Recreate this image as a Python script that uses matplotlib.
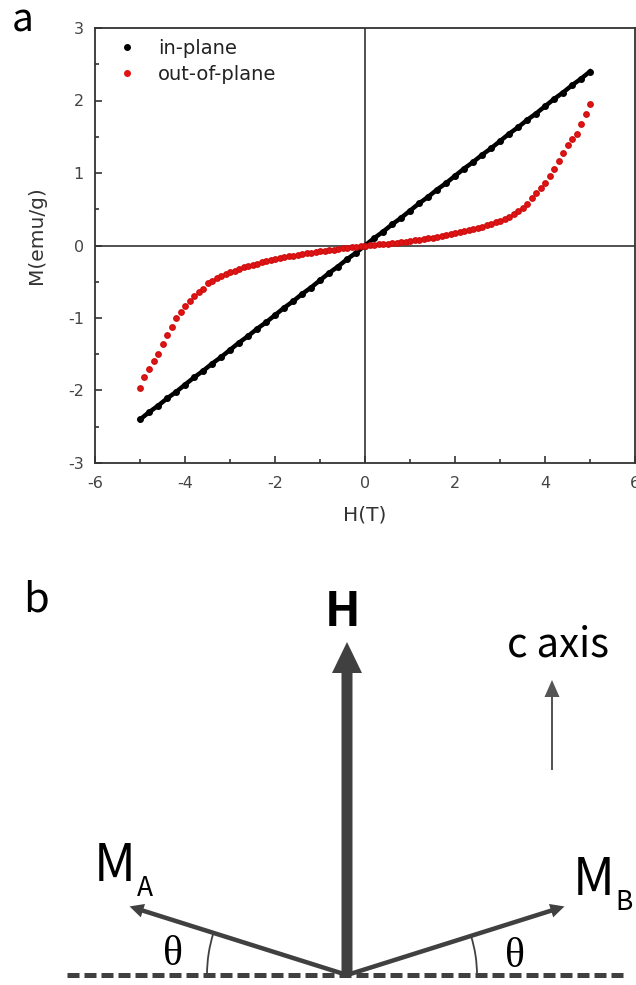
import numpy as np
import matplotlib.pyplot as plt
from matplotlib.lines import Line2D
from matplotlib.patches import Arc

plt.rcParams['axes.unicode_minus'] = False

# ---- panel a data: M(H) ----
h_in = [-5.0, -4.8, -4.6, -4.4, -4.2, -4.0, -3.8, -3.6, -3.4, -3.2, -3.0,
        -2.8, -2.6, -2.4, -2.2, -2.0, -1.8, -1.6, -1.4, -1.2, -1.0,
        -0.8, -0.6, -0.4, -0.2, 0.0, 0.2, 0.4, 0.6, 0.8, 1.0,
        1.2, 1.4, 1.6, 1.8, 2.0, 2.2, 2.4, 2.6, 2.8, 3.0,
        3.2, 3.4, 3.6, 3.8, 4.0, 4.2, 4.4, 4.6, 4.8, 5.0]
m_in = [-2.40, -2.30, -2.21, -2.11, -2.02, -1.92, -1.82, -1.73, -1.63, -1.54, -1.44,
        -1.34, -1.25, -1.15, -1.06, -0.96, -0.86, -0.77, -0.67, -0.58, -0.48,
        -0.38, -0.29, -0.19, -0.10, 0.00, 0.10, 0.19, 0.29, 0.38, 0.48,
        0.58, 0.67, 0.77, 0.86, 0.96, 1.06, 1.15, 1.25, 1.34, 1.44,
        1.54, 1.63, 1.73, 1.82, 1.92, 2.02, 2.11, 2.21, 2.30, 2.40]

h_out = [-5.0, -4.9, -4.8, -4.7, -4.6, -4.5, -4.4, -4.3, -4.2, -4.1,
         -4.0, -3.9, -3.8, -3.7, -3.6, -3.5, -3.4, -3.3, -3.2, -3.1,
         -3.0, -2.9, -2.8, -2.7, -2.6, -2.5, -2.4, -2.3, -2.2, -2.1,
         -2.0, -1.9, -1.8, -1.7, -1.6, -1.5, -1.4, -1.3, -1.2, -1.1,
         -1.0, -0.9, -0.8, -0.7, -0.6, -0.5, -0.4, -0.3, -0.2, -0.1,
         0.0, 0.1, 0.2, 0.3, 0.4, 0.5, 0.6, 0.7, 0.8, 0.9,
         1.0, 1.1, 1.2, 1.3, 1.4, 1.5, 1.6, 1.7, 1.8, 1.9,
         2.0, 2.1, 2.2, 2.3, 2.4, 2.5, 2.6, 2.7, 2.8, 2.9,
         3.0, 3.1, 3.2, 3.3, 3.4, 3.5, 3.6, 3.7, 3.8, 3.9,
         4.0, 4.1, 4.2, 4.3, 4.4, 4.5, 4.6, 4.7, 4.8, 4.9, 5.0]
m_out = [-1.96, -1.82, -1.71, -1.60, -1.49, -1.36, -1.23, -1.13, -1.00, -0.92,
         -0.84, -0.76, -0.70, -0.64, -0.60, -0.52, -0.49, -0.45, -0.42, -0.39,
         -0.37, -0.35, -0.32, -0.30, -0.28, -0.27, -0.25, -0.23, -0.21, -0.20,
         -0.18, -0.17, -0.16, -0.15, -0.14, -0.13, -0.12, -0.11, -0.10, -0.09,
         -0.08, -0.075, -0.065, -0.06, -0.05, -0.04, -0.03, -0.025, -0.02, -0.01,
         0.00, 0.005, 0.01, 0.015, 0.02, 0.025, 0.03, 0.037, 0.043, 0.05,
         0.06, 0.07, 0.08, 0.09, 0.10, 0.11, 0.12, 0.13, 0.14, 0.155,
         0.17, 0.185, 0.20, 0.215, 0.23, 0.245, 0.26, 0.28, 0.30, 0.32,
         0.34, 0.37, 0.40, 0.43, 0.47, 0.52, 0.57, 0.65, 0.72, 0.79,
         0.86, 0.96, 1.06, 1.16, 1.28, 1.39, 1.47, 1.54, 1.67, 1.82, 1.95]

labels = ['in-plane', 'out-of-plane']
x_ticks = [-6, -4, -2, 0, 2, 4, 6]
y_ticks = [-3, -2, -1, 0, 1, 2, 3]

# ---- panel b geometry (pixels, y measured upward) ----
origin = (347, 10)
theta_deg = 17.5
len_a, len_b = 228, 228
h_len = 333
c_arrow = (552, 215, 90)

sans = 'DejaVu Sans'
grey = '#404040'

fig = plt.figure(figsize=(6.36, 9.85), dpi=100)

# full-figure pixel canvas for the sketch
axb = fig.add_axes([0, 0, 1, 1], zorder=0)
axb.set_xlim(0, 636)
axb.set_ylim(0, 985)
axb.axis('off')

ax = fig.add_axes([95 / 636, 1 - 463 / 985, 540 / 636, 435 / 985], zorder=2)
ax.axhline(0, color='#333333', lw=1.2, zorder=1)
ax.axvline(0, color='#333333', lw=1.2, zorder=1)
ax.plot(h_in, m_in, color='black', lw=3.2, marker='o', ms=4.0, zorder=3)
ax.plot(h_out, m_out, ls='none', color='#e01414', marker='o', ms=3.9,
        mec='#d01010', zorder=4)

ax.set_xlim(-6, 6)
ax.set_ylim(-3, 3)
ax.set_xticks(x_ticks)
ax.set_yticks(y_ticks)
ax.set_xticks(np.arange(-5, 6, 2), minor=True)
ax.set_yticks(np.arange(-2.5, 3, 1), minor=True)
ax.tick_params(which='both', direction='in', width=1.2, color='#333333',
               labelsize=11.5, labelcolor='#444444')
ax.tick_params(which='major', length=5)
ax.tick_params(which='minor', length=3)
ax.tick_params(axis='x', pad=9)
ax.tick_params(axis='y', pad=8)
for lab in ax.get_xticklabels() + ax.get_yticklabels():
    lab.set_family(sans)
for s in ax.spines.values():
    s.set_color('#333333')
    s.set_linewidth(1.3)

ax.text(-59 / 540, (463 - 235) / 435, 'M(emu/g)', transform=ax.transAxes,
        rotation=90, ha='center', va='center', fontsize=14.5, family=sans,
        color='#333333')
ax.text(0.5, -(515 - 463) / 435, 'H(T)', transform=ax.transAxes,
        ha='center', va='center', fontsize=14.5, family=sans, color='#333333')

handles = [Line2D([], [], ls='none', marker='o', ms=4.0, color='black'),
           Line2D([], [], ls='none', marker='o', ms=4.0, color='#e01414')]
ax.legend(handles, labels, loc='upper left', bbox_to_anchor=(22 / 540, 1 - 11 / 435),
          frameon=False, borderpad=0, borderaxespad=0, handlelength=1.0,
          handletextpad=1.1, labelspacing=0.37,
          prop={'family': sans, 'size': 14}, labelcolor='#222222')

# ---- panel b ----
ox, oy = origin
t = np.radians(theta_deg)
axb.arrow(ox, oy, 0, h_len, width=11, head_width=30, head_length=31,
          length_includes_head=True, color=grey, lw=0)
axb.arrow(ox, oy, -len_a * np.cos(t), len_a * np.sin(t), width=4.5,
          head_width=14, head_length=14, length_includes_head=True, color=grey, lw=0)
axb.arrow(ox, oy, len_b * np.cos(t), len_b * np.sin(t), width=4.5,
          head_width=14, head_length=14, length_includes_head=True, color=grey, lw=0)
cx, cy, clen = c_arrow
axb.arrow(cx, cy, 0, clen, width=2, head_width=15, head_length=17,
          length_includes_head=True, color='#555555', lw=0)
axb.plot([67, 625], [oy, oy], color=grey, lw=3.6, ls=(0, (2.4, 1.0)),
         solid_capstyle='butt')
axb.add_patch(Arc((ox, oy), 280, 280, theta1=180 - theta_deg, theta2=180,
                  color=grey, lw=1.3))
axb.add_patch(Arc((ox, oy), 260, 260, theta1=0, theta2=theta_deg,
                  color=grey, lw=1.3))

cjk = 'Noto Sans CJK SC'
axb.text(23, 965, 'a', fontsize=28, family=cjk, ha='center', va='center')
axb.text(36, 385, 'b', fontsize=30, family=cjk, ha='center', va='center')
axb.text(343, 373, 'H', fontsize=34, family=cjk, weight='bold', ha='center', va='center')
axb.text(558, 340, 'c axis', fontsize=29, family=cjk, ha='center', va='center')
axb.text(115, 119, 'M', fontsize=37, family=cjk, ha='center', va='center')
axb.text(145, 96, 'A', fontsize=19, family=cjk, ha='center', va='center')
axb.text(594, 105, 'M', fontsize=37, family=cjk, ha='center', va='center')
axb.text(624, 83, 'B', fontsize=19, family=cjk, ha='center', va='center')
axb.text(173, 30, 'θ', fontsize=30, family='Liberation Serif', ha='center', va='center')
axb.text(515, 28, 'θ', fontsize=30, family='Liberation Serif', ha='center', va='center')

fig.savefig('out.png', dpi=100)
